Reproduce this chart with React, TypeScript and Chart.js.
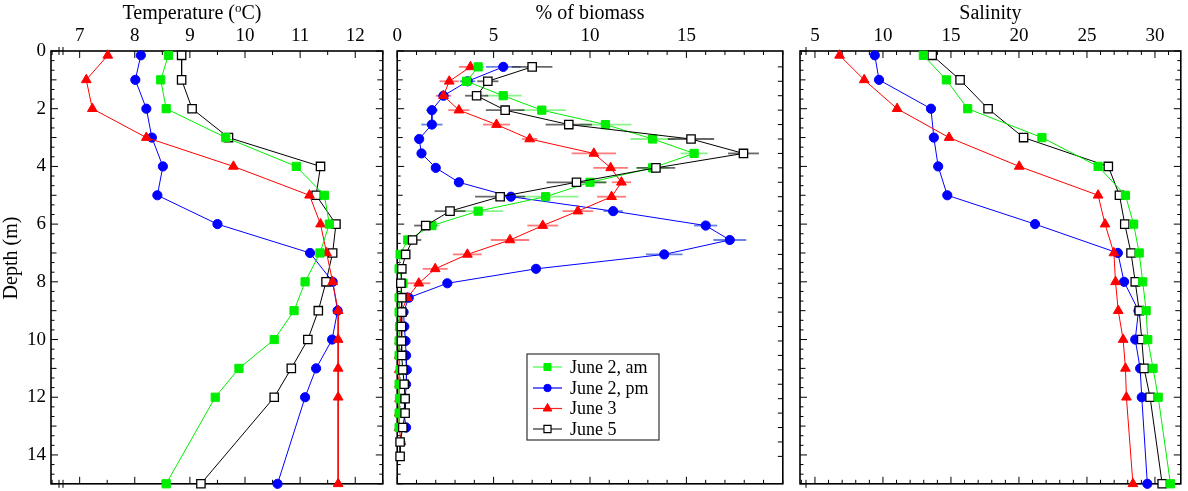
import React, { useEffect, useRef } from 'react';
import { Chart, registerables } from 'chart.js';

Chart.register(...registerables);

// ---------------- data ----------------
const SERIES_NAMES = ['June 2, am', 'June 2, pm', 'June 3', 'June 5'];

const profileDepths = [0.15, 1, 2, 3, 4, 5, 6, 7, 8, 9, 10, 11, 12, 15];

const tempAm = [8.61, 8.47, 8.57, 9.65, 10.93, 11.44, 11.53, 11.36, 11.09, 10.89, 10.53, 9.89, 9.46, 8.57];
const tempPm = [8.11, 8.01, 8.21, 8.31, 8.51, 8.41, 9.5, 11.18, 11.59, 11.68, 11.58, 11.29, 11.09, 10.59];
const tempJ3 = [7.51, 7.12, 7.23, 8.21, 9.79, 11.17, 11.37, 11.48, 11.59, 11.69, 11.69, 11.69, 11.69, 11.69];
const tempJ5 = [8.85, 8.85, 9.04, 9.7, 11.37, 11.29, 11.65, 11.59, 11.47, 11.33, 11.14, 10.84, 10.53, 9.2];

const salAm = [12.97, 14.66, 16.23, 21.69, 25.82, 27.83, 28.43, 28.84, 29.1, 29.35, 29.47, 29.86, 30.24, 31.14];
const salPm = [9.4, 9.71, 13.53, 13.74, 14.06, 14.73, 21.18, 27.27, 27.73, 28.79, 28.55, 28.91, 29.03, 29.44];
const salJ3 = [6.81, 8.62, 11.04, 14.86, 20.02, 25.82, 26.33, 26.98, 27.1, 27.3, 27.66, 27.83, 27.9, 28.38];
const salJ5 = [13.62, 15.67, 17.73, 20.34, 26.57, 27.39, 27.78, 28.24, 28.55, 28.84, 29.03, 29.2, 29.64, 30.53];

const bioDepths = [0.55, 1.05, 1.55, 2.05, 2.55, 3.05, 3.55, 4.05, 4.55, 5.05, 5.55, 6.05, 6.55, 7.05,
  7.55, 8.05, 8.55, 9.05, 9.55, 10.05, 10.55, 11.05, 11.55, 12.05, 12.55, 13.05, 13.55, 14.05];

const bioAm = [4.2, 3.6, 5.5, 7.5, 10.8, 13.25, 15.4, 13.25, 10.0, 7.7, 4.2, 1.8, 0.55, 0.15, 0.1, 0.3, 0.1, 0.1, 0.12, 0.1, 0.1, 0.15, 0.1, 0.12, 0.1, 0.1];
const bioAmErr = [0.3, 0.3, 0.95, 1.25, 1.35, 1.15, 0.7, 0.85, 0.85, 1.7, 1.3, 0.4, 0.2, 0.1, 0.1, 0.1, 0.1, 0.1, 0.1, 0.1, 0.1, 0.1, 0.1, 0.1, 0.1, 0.1];

const bioPm = [5.5, 3.65, 2.4, 1.8, 1.8, 1.14, 1.26, 2.0, 3.2, 5.9, 11.2, 16.0, 17.25, 13.85, 7.2, 2.6, 0.6, 0.33, 0.37, 0.43, 0.46, 0.5, 0.46, 0.4, 0.35, 0.46];
const bioPmErr = [0.9, 0.4, 0.3, 0.3, 0.55, 0.1, 0.1, 0.1, 0.1, 0.2, 0.5, 0.6, 0.85, 0.95, 0.2, 0.1, 0.1, 0.1, 0.1, 0.1, 0.1, 0.1, 0.1, 0.1, 0.1, 0.1];

const bioJ3 = [3.8, 2.7, 2.4, 3.2, 5.15, 6.87, 10.2, 11.07, 11.63, 11.12, 9.37, 7.55, 5.85, 3.64, 1.97, 1.12, 0.53, 0.2, 0.15, 0.12, 0.1, 0.1, 0.12, 0.12, 0.1, 0.1, 0.2];
const bioJ3Err = [0.6, 0.5, 0.4, 0.55, 0.7, 0.4, 1.15, 0.9, 0.5, 0.75, 0.8, 0.8, 1.0, 0.75, 0.65, 0.6, 0.2, 0.15, 0.15, 0.15, 0.15, 0.2, 0.2, 0.3, 0.2, 0.2, 0.25];

const bioJ5 = [7.0, 4.7, 4.12, 5.6, 8.9, 15.24, 17.96, 13.42, 9.3, 5.34, 2.74, 1.48, 0.8, 0.44, 0.24, 0.19, 0.24, 0.24, 0.22, 0.22, 0.24, 0.29, 0.36, 0.41, 0.41, 0.29, 0.15, 0.15];
const bioJ5Err = [1.05, 0.55, 0.6, 1.0, 1.2, 1.2, 0.8, 1.0, 1.55, 1.3, 0.8, 0.6, 0.45, 0.2, 0.1, 0.1, 0.1, 0.1, 0.1, 0.1, 0.1, 0.1, 0.3, 0.1, 0.1, 0.1, 0.1, 0.1];

const depthTicks = [0, 2, 4, 6, 8, 10, 12, 14];
const tempTicks = [7, 8, 9, 10, 11, 12];
const bioTicks = [0, 5, 10, 15];
const salTicks = [5, 10, 15, 20, 25, 30];

// ---------------- styles ----------------
const H = 491;
const FONT = '"Liberation Serif", "Times New Roman", serif';
const LINE_COLORS = ['#00ee00', '#0000ff', '#ff0000', '#000000'];
const FILL_COLORS = ['#00ee00', '#0000ff', '#ff0000', '#ffffff'];
const MARKER_BORDER = ['#00ee00', '#0000ff', '#ff0000', '#000000'];
const LEGEND_LINE = ['#44ff44', '#0000ff', '#ff2020', '#555555'];
const ERR_COLORS = ['rgba(60,235,60,0.6)', 'rgba(40,80,210,0.7)', 'rgba(255,50,50,0.65)', 'rgba(40,40,40,0.7)'];
const POINT_STYLES = ['rect', 'circle', 'triangle', 'rect'];
const POINT_RADII = [5.8, 4.6, 5.6, 5.9];

type PanelCfg = {
  key: string;
  left: number;
  width: number;
  padding: { left: number; right: number; top: number; bottom: number };
  xMin: number;
  xMax: number;
  xTicks: number[];
  xMinor: number;
  showY: boolean;
  title: string;
  titleX?: number;
  series: number[][];
  depths: number[];
  errors?: number[][];
  order: number[];
  legend?: boolean;
  breaks?: number[];
  rightTicksAtDepths?: boolean;
};

function drawMarker(ctx: CanvasRenderingContext2D, style: string, x: number, y: number, r: number,
  fill: string, stroke: string, lw: number) {
  ctx.beginPath();
  if (style === 'circle') {
    ctx.arc(x, y, r, 0, Math.PI * 2);
  } else if (style === 'rect') {
    const s = r * Math.SQRT1_2;
    ctx.rect(x - s, y - s, 2 * s, 2 * s);
  } else {
    const a = (Math.PI * 2) / 3;
    ctx.moveTo(x, y - r);
    ctx.lineTo(x + Math.sin(a) * r, y - Math.cos(a) * r);
    ctx.lineTo(x + Math.sin(2 * a) * r, y - Math.cos(2 * a) * r);
    ctx.closePath();
  }
  ctx.fillStyle = fill;
  ctx.fill();
  ctx.lineWidth = lw;
  ctx.strokeStyle = stroke;
  ctx.stroke();
}

function makePlugin(cfg: PanelCfg) {
  return {
    id: 'frame_' + cfg.key,
    beforeDatasetsDraw(chart: any) {
      const ctx: CanvasRenderingContext2D = chart.ctx;
      const { left, right, top, bottom } = chart.chartArea;
      const xs = chart.scales.x;
      const ys = chart.scales.y;
      ctx.save();
      ctx.strokeStyle = '#000';
      ctx.lineWidth = 1;
      const line = (x1: number, y1: number, x2: number, y2: number) => {
        ctx.beginPath();
        ctx.moveTo(x1, y1);
        ctx.lineTo(x2, y2);
        ctx.stroke();
      };
      // x ticks top & bottom
      const kStart = Math.ceil(cfg.xMin / cfg.xMinor - 1e-9);
      for (let k = kStart; k * cfg.xMinor <= cfg.xMax + 1e-9; k++) {
        const v = k * cfg.xMinor;
        const px = xs.getPixelForValue(v);
        const major = cfg.xTicks.some((t) => Math.abs(t - v) < 1e-6);
        const len = major ? 7 : 4;
        line(px, top, px, top + len);
        line(px, bottom, px, bottom - len);
      }
      // y ticks left (and right)
      for (let k = 0; k <= 45; k++) {
        const v = k / 3;
        const py = ys.getPixelForValue(v);
        const len = k % 6 === 0 ? 7 : k % 3 === 0 ? 5.5 : 3.5;
        line(left, py, left + len, py);
        if (!cfg.rightTicksAtDepths) line(right, py, right - len, py);
      }
      if (cfg.rightTicksAtDepths) {
        cfg.depths.forEach((d) => {
          const py = ys.getPixelForValue(d);
          line(right, py, right - 5, py);
        });
      }
      // axis break marks
      if (cfg.breaks) {
        cfg.breaks.forEach((off) => {
          line(left + off, top - 4, left + off, top + 4);
          line(left + off, bottom - 4, left + off, bottom + 4);
        });
      }
      // frame
      ctx.lineWidth = 1.6;
      ctx.strokeRect(left, top, right - left, bottom - top);

      // error bars
      if (cfg.errors) {
        cfg.errors.forEach((errs, i) => {
          ctx.strokeStyle = ERR_COLORS[i];
          ctx.lineWidth = 1.8;
          errs.forEach((e, j) => {
            if (j >= cfg.series[i].length) return;
            const v = cfg.series[i][j];
            const py = ys.getPixelForValue(cfg.depths[j]);
            const x1 = xs.getPixelForValue(Math.max(v - e, cfg.xMin));
            const x2 = xs.getPixelForValue(v + e);
            line(x1, py, x2, py);
          });
        });
      }
      ctx.restore();
    },
    afterDraw(chart: any) {
      const ctx: CanvasRenderingContext2D = chart.ctx;
      const { left, right } = chart.chartArea;
      ctx.save();
      ctx.fillStyle = '#000';
      ctx.textBaseline = 'alphabetic';
      ctx.textAlign = 'left';
      const cx = cfg.titleX !== undefined ? cfg.titleX : (left + right) / 2;
      if (cfg.key === 'temp') {
        const a = 'Temperature (';
        const b = 'o';
        const c = 'C)';
        ctx.font = '20px ' + FONT;
        const wa = ctx.measureText(a).width;
        const wc = ctx.measureText(c).width;
        ctx.font = '13px ' + FONT;
        const wb = ctx.measureText(b).width;
        const start = cx - (wa + wb + wc) / 2;
        ctx.font = '20px ' + FONT;
        ctx.fillText(a, start, 19);
        ctx.font = '13px ' + FONT;
        ctx.fillText(b, start + wa, 12);
        ctx.font = '20px ' + FONT;
        ctx.fillText(c, start + wa + wb, 19);
        // y axis title
        ctx.save();
        ctx.translate(17, 258);
        ctx.rotate(-Math.PI / 2);
        ctx.textAlign = 'center';
        ctx.fillText('Depth (m)', 0, 0);
        ctx.restore();
      } else {
        ctx.font = '20px ' + FONT;
        ctx.textAlign = 'center';
        ctx.fillText(cfg.title, cx, 19);
      }
      if (cfg.legend) {
        const bx = 137, by = 354, bw = 132, bh = 86;
        ctx.fillStyle = '#fff';
        ctx.fillRect(bx, by, bw, bh);
        ctx.strokeStyle = '#333';
        ctx.lineWidth = 1.2;
        ctx.strokeRect(bx, by, bw, bh);
        const rows = [367, 388, 408.5, 429];
        SERIES_NAMES.forEach((name, i) => {
          const y = rows[i];
          ctx.strokeStyle = LEGEND_LINE[i];
          ctx.lineWidth = i === 3 ? 1.5 : 1.2;
          ctx.beginPath();
          ctx.moveTo(143, y);
          ctx.lineTo(172, y);
          ctx.stroke();
          drawMarker(ctx, POINT_STYLES[i], 157.5, y, i === 1 ? 3.7 : 5, FILL_COLORS[i], MARKER_BORDER[i], i === 3 ? 1.2 : 1);
          ctx.fillStyle = '#000';
          ctx.font = '18px ' + FONT;
          ctx.textAlign = 'left';
          ctx.textBaseline = 'middle';
          ctx.fillText(name, 180, y + 1);
        });
      }
      ctx.restore();
    },
  };
}

const tickFont = { family: FONT, size: 19 };

function Panel({ cfg }: { cfg: PanelCfg }) {
  const ref = useRef<HTMLCanvasElement | null>(null);
  useEffect(() => {
    const canvas = ref.current;
    if (!canvas) return;
    const datasets = SERIES_NAMES.map((name, i) => ({
      label: name,
      data: cfg.series[i].map((v, j) => ({ x: v, y: cfg.depths[j] })),
      borderColor: LINE_COLORS[i],
      backgroundColor: FILL_COLORS[i],
      pointBackgroundColor: FILL_COLORS[i],
      pointBorderColor: MARKER_BORDER[i],
      pointBorderWidth: i === 3 ? 1.3 : 1,
      pointStyle: POINT_STYLES[i],
      pointRadius: POINT_RADII[i],
      pointHoverRadius: POINT_RADII[i],
      borderWidth: 1,
      showLine: true,
      fill: false,
      tension: 0,
      clip: false,
      order: cfg.order[i],
    }));
    const chart = new Chart(canvas, {
      type: 'scatter',
      data: { datasets: datasets as any },
      options: {
        animation: false,
        responsive: false,
        devicePixelRatio: 1,
        events: [],
        layout: { padding: cfg.padding },
        plugins: { legend: { display: false }, tooltip: { enabled: false }, title: { display: false } },
        scales: {
          x: {
            type: 'linear',
            position: 'top',
            min: cfg.xMin,
            max: cfg.xMax,
            grid: { display: false, drawTicks: false },
            border: { display: false },
            ticks: {
              font: tickFont,
              color: '#000',
              padding: 4,
              autoSkip: false,
              maxRotation: 0,
              callback: (v: any) => String(v),
            },
            afterBuildTicks: (s: any) => {
              s.ticks = cfg.xTicks.map((v) => ({ value: v }));
            },
            afterFit: (s: any) => {
              s.height = 51;
              s.paddingLeft = 0;
              s.paddingRight = 0;
              s.paddingTop = 0;
              s.paddingBottom = 0;
            },
          },
          y: {
            type: 'linear',
            position: 'left',
            reverse: true,
            min: 0,
            max: 15,
            display: cfg.showY,
            grid: { display: false, drawTicks: false },
            border: { display: false },
            ticks: {
              font: tickFont,
              color: '#000',
              padding: 5,
              autoSkip: false,
              callback: (v: any) => String(v),
            },
            afterBuildTicks: (s: any) => {
              s.ticks = depthTicks.map((v) => ({ value: v }));
            },
            afterFit: (s: any) => {
              if (cfg.showY) s.width = 51;
              s.paddingLeft = 0;
              s.paddingRight = 0;
              s.paddingTop = 0;
              s.paddingBottom = 0;
            },
          },
        },
      } as any,
      plugins: [makePlugin(cfg)],
    });
    return () => chart.destroy();
  }, []);
  return (
    <canvas
      ref={ref}
      width={cfg.width}
      height={H}
      style={{ position: 'absolute', left: cfg.left, top: 0, width: cfg.width, height: H }}
    />
  );
}

const panels: PanelCfg[] = [
  {
    key: 'temp',
    left: 0,
    width: 390,
    padding: { left: 0, right: 3, top: 0, bottom: 3 },
    xMin: 6.48,
    xMax: 12.5,
    xTicks: tempTicks,
    xMinor: 0.5,
    showY: true,
    title: 'Temperature (oC)',
    titleX: 192,
    series: [tempAm, tempPm, tempJ3, tempJ5],
    depths: profileDepths,
    order: [0, 3, 1, 2],
    breaks: [8, 12],
  },
  {
    key: 'bio',
    left: 390,
    width: 400,
    padding: { left: 7, right: 1, top: 0, bottom: 3 },
    xMin: 0,
    xMax: 20,
    xTicks: bioTicks,
    xMinor: 1,
    showY: false,
    title: '% of biomass',
    series: [bioAm, bioPm, bioJ3, bioJ5],
    errors: [bioAmErr, bioPmErr, bioJ3Err, bioJ5Err],
    depths: bioDepths,
    order: [1, 3, 2, 0],
    legend: true,
    rightTicksAtDepths: true,
  },
  {
    key: 'sal',
    left: 790,
    width: 398,
    padding: { left: 10, right: 2, top: 0, bottom: 3 },
    xMin: 3.9,
    xMax: 31.9,
    xTicks: salTicks,
    xMinor: 1,
    showY: false,
    title: 'Salinity',
    series: [salAm, salPm, salJ3, salJ5],
    depths: profileDepths,
    order: [0, 3, 1, 2],
    breaks: [6],
  },
];

export default function App() {
  return (
    <div style={{ position: 'absolute', left: 0, top: 0, width: 1188, height: H, background: '#fff', overflow: 'hidden' }}>
      {panels.map((p) => (
        <Panel key={p.key} cfg={p} />
      ))}
    </div>
  );
}
